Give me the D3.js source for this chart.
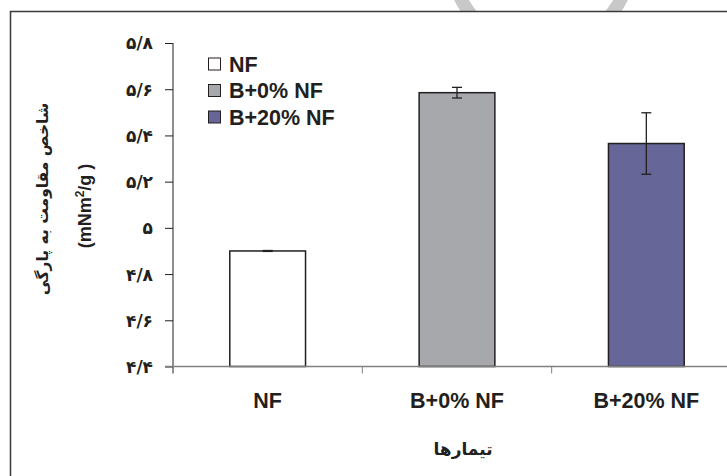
<!DOCTYPE html>
<html>
<head>
<meta charset="utf-8">
<script src="https://cdn.jsdelivr.net/npm/d3@7"></script>
<style>
  body { margin: 0; background: #fff; }
  svg { display: block; }
  .lat { font-family: "Liberation Sans", Arial, sans-serif; font-weight: bold; fill: #231f20; }
  .fa { font-family: "DejaVu Sans", sans-serif; font-weight: bold; fill: #231f20; }
</style>
</head>
<body>
<div class="viz"></div>
<script>
// data
const categories = ["NF", "B+0% NF", "B+20% NF"];
const values = [4.90, 5.585, 5.365];
const errors = [0.002, 0.023, 0.133];
const colors = ["#ffffff", "#a6a8ab", "#666699"];
const yTicks = [4.4, 4.6, 4.8, 5.0, 5.2, 5.4, 5.6, 5.8];
const yTickLabels = ["۴/۴", "۴/۶", "۴/۸", "۵", "۵/۲", "۵/۴", "۵/۶", "۵/۸"];
const yTitle = "شاخص مقاومت به پارگی";
const xTitle = "تیمارها";

const W = 727, H = 476;
const plot = { left: 173, right: 741, top: 43, bottom: 366.5 };

var svg = d3.select(".viz").append("svg")
  .attr("width", W).attr("height", H);

// watermark remnant peeking above the frame
svg.append("circle")
  .attr("cx", 541).attr("cy", -42).attr("r", 90)
  .attr("fill", "none").attr("stroke", "#c8c8c8").attr("stroke-width", 13);

// outer frame
svg.append("rect")
  .attr("x", 10.5).attr("y", 11.5)
  .attr("width", 760).attr("height", 500)
  .attr("fill", "#fff").attr("stroke", "#3a3a3a").attr("stroke-width", 1.5);

var x = d3.scaleBand()
  .domain(categories)
  .range([plot.left, plot.right])
  .padding(0);

var y = d3.scaleLinear()
  .domain([4.4, 5.8])
  .range([plot.bottom, plot.top]);

var barW = x.bandwidth() * 0.4;

// y axis
var yaxis = d3.axisLeft(y)
  .tickValues(yTicks)
  .tickSize(8)
  .tickPadding(12)
  .tickFormat((d, i) => yTickLabels[i]);

var gy = svg.append("g")
  .attr("transform", "translate(" + plot.left + ",0)")
  .call(yaxis);
gy.select(".domain").remove();
gy.selectAll(".tick line").attr("stroke", "#231f20");
gy.selectAll(".tick text")
  .attr("class", "fa")
  .style("font-size", "17px")
  .attr("dy", "0.35em");
gy.append("line")
  .attr("x1", 0).attr("x2", 0)
  .attr("y1", y(5.8)).attr("y2", plot.bottom + 7)
  .attr("stroke", "#231f20");

// bars
svg.append("g").selectAll("rect")
  .data(values)
  .enter()
  .append("rect")
  .attr("x", (d, i) => x(categories[i]) + (x.bandwidth() - barW) / 2)
  .attr("y", d => y(d))
  .attr("width", barW)
  .attr("height", d => y(4.4) - y(d))
  .attr("fill", (d, i) => colors[i])
  .attr("stroke", "#231f20")
  .attr("stroke-width", 1.5);

// x axis (grey baseline with ticks at category boundaries)
var gx = svg.append("g");
gx.append("line")
  .attr("x1", plot.left - 8).attr("x2", W)
  .attr("y1", plot.bottom).attr("y2", plot.bottom)
  .attr("stroke", "#808080").attr("stroke-width", 1.5);
gx.selectAll(".bt")
  .data(categories.slice(1))
  .enter()
  .append("line")
  .attr("x1", d => x(d)).attr("x2", d => x(d))
  .attr("y1", plot.bottom).attr("y2", plot.bottom + 7)
  .attr("stroke", "#808080");
gx.selectAll(".cl")
  .data(categories)
  .enter()
  .append("text")
  .attr("class", "lat")
  .attr("x", d => x(d) + x.bandwidth() / 2)
  .attr("y", 408)
  .attr("text-anchor", "middle")
  .style("font-size", "21.5px")
  .text(d => d);

// error bars
var eb = svg.append("g").selectAll("g")
  .data(values)
  .enter()
  .append("g")
  .attr("stroke", "#231f20")
  .attr("stroke-width", 1.3);
eb.append("line")
  .attr("x1", (d, i) => x(categories[i]) + x.bandwidth() / 2)
  .attr("x2", (d, i) => x(categories[i]) + x.bandwidth() / 2)
  .attr("y1", (d, i) => y(d + errors[i]))
  .attr("y2", (d, i) => y(d - errors[i]));
[1, -1].forEach(function (s) {
  eb.append("line")
    .attr("x1", (d, i) => x(categories[i]) + x.bandwidth() / 2 - 5)
    .attr("x2", (d, i) => x(categories[i]) + x.bandwidth() / 2 + 5)
    .attr("y1", (d, i) => y(d + s * errors[i]))
    .attr("y2", (d, i) => y(d + s * errors[i]));
});

// legend
var legend = svg.append("g").attr("transform", "translate(208,0)");
var rows = legend.selectAll("g")
  .data(categories)
  .enter()
  .append("g")
  .attr("transform", (d, i) => "translate(0," + (64 + i * 26.5) + ")");
rows.append("rect")
  .attr("x", 0.5).attr("y", -6)
  .attr("width", 12).attr("height", 12)
  .attr("fill", (d, i) => colors[i])
  .attr("stroke", "#231f20");
rows.append("text")
  .attr("class", "lat")
  .attr("x", 21).attr("y", 7.5)
  .style("font-size", "21.5px")
  .text(d => d);

// axis titles
svg.append("text")
  .attr("class", "fa")
  .attr("transform", "translate(48,199) rotate(-90)")
  .attr("text-anchor", "middle")
  .style("font-size", "15.5px")
  .text(yTitle);

var unit = svg.append("text")
  .attr("class", "lat")
  .attr("transform", "translate(91,206) rotate(-90)")
  .attr("text-anchor", "middle")
  .style("font-size", "18px");
unit.append("tspan").text("(mNm");
unit.append("tspan").attr("dy", -7).style("font-size", "12px").text("2");
unit.append("tspan").attr("dy", 7).text("/g )");

svg.append("text")
  .attr("class", "fa")
  .attr("x", x(categories[1]) + x.bandwidth() / 2 + 6)
  .attr("y", 455)
  .attr("text-anchor", "middle")
  .style("font-size", "17px")
  .text(xTitle);
</script>
</body>
</html>
